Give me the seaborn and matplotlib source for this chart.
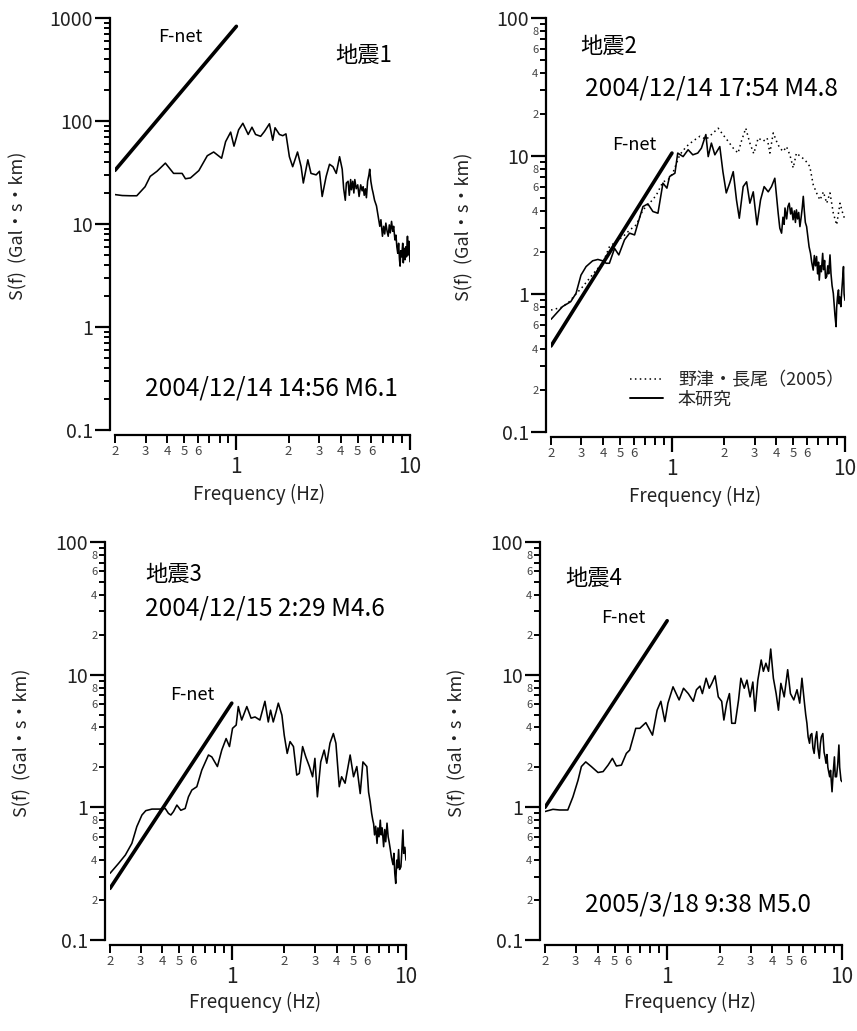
import numpy as np
import pandas as pd
import matplotlib
matplotlib.use("Agg")
import matplotlib.pyplot as plt
import seaborn as sns
from matplotlib.ticker import LogLocator, FuncFormatter, NullFormatter, FixedLocator
from matplotlib.lines import Line2D

# ---- source spectra S(f) [Gal*s*km] vs frequency [Hz] ----
EQ1_F = [0.2, 0.22, 0.245, 0.267, 0.298, 0.319, 0.349, 0.39, 0.435, 0.487, 0.509, 0.544,
         0.608, 0.68, 0.74, 0.822, 0.867, 0.927, 0.969, 1.03, 1.09, 1.17, 1.23, 1.29,
         1.38, 1.45, 1.55, 1.62, 1.67, 1.77, 1.85, 1.93, 2.02, 2.11, 2.25, 2.36,
         2.43, 2.58, 2.69, 2.88, 3.01, 3.12, 3.29, 3.44, 3.6, 3.76, 3.93, 4.07,
         4.15, 4.24, 4.3, 4.4, 4.47, 4.55, 4.6, 4.68, 4.75, 4.81,
         4.9, 5.0, 5.09, 5.2, 5.3, 5.37, 5.45, 5.53, 5.61, 5.7,
         5.8, 5.86, 5.95, 6.05, 6.13, 6.25, 6.41, 6.55, 6.7, 6.8,
         6.94, 7.05, 7.15, 7.26, 7.38, 7.49, 7.6, 7.7, 7.83, 7.95,
         8.05, 8.19, 8.3, 8.4, 8.5, 8.6, 8.7, 8.77, 8.85, 8.95,
         9.08, 9.15, 9.25, 9.37, 9.45, 9.55, 9.67, 9.75, 9.85, 10.0]
EQ1_S = [19.3, 18.9, 18.8, 18.8, 23, 29, 32.5, 39, 31, 31, 27.5, 28,
         33, 46, 50, 43.5, 63, 78, 57, 82, 95, 74, 87, 74,
         71, 79, 94, 65, 86, 74, 72, 75, 45, 36, 50, 36,
         25, 42, 31, 30, 32.5, 18.5, 29, 38, 36, 31, 45, 34,
         22, 17, 25, 26, 19, 27, 21.5, 26, 20, 27,
         22, 24, 18.5, 24, 21, 23, 19, 22, 18, 26,
         30, 34, 26, 22, 20, 17, 15, 12, 9.5, 11,
         7.6, 9.5, 8, 10.2, 8.5, 7.6, 9.8, 8.2, 10.6, 8.5,
         9.5, 7, 7.8, 6, 5.2, 6.5, 4.5, 3.9, 5.5, 4.8,
         6.5, 4.2, 5.8, 4.5, 6, 4.8, 7.6, 5, 6.8, 4.3]

EQ2_F = [0.2, 0.214, 0.233, 0.26, 0.279, 0.298, 0.319, 0.348, 0.373, 0.398,
         0.417, 0.435, 0.466, 0.493, 0.532, 0.569, 0.608, 0.636, 0.68, 0.726,
         0.776, 0.83, 0.887, 0.935, 0.969, 1.04, 1.08, 1.16, 1.24, 1.32,
         1.41, 1.48, 1.57, 1.62, 1.69, 1.77, 1.89, 1.97, 2.06, 2.16,
         2.26, 2.36, 2.45, 2.58, 2.7, 2.82, 2.95, 3.1, 3.25, 3.41,
         3.6, 3.76, 3.93, 4.11,
         4.2, 4.3, 4.38, 4.45, 4.5, 4.6, 4.68, 4.76, 4.85, 4.92,
         5.01, 5.1, 5.17, 5.24, 5.32, 5.4, 5.49, 5.58, 5.66, 5.74,
         5.82, 5.9, 6.0, 6.1, 6.2, 6.32, 6.42, 6.55, 6.65, 6.75,
         6.85, 6.95, 7.03, 7.1, 7.2, 7.3, 7.43, 7.52, 7.62, 7.72,
         7.84, 7.95, 8.05, 8.19, 8.3, 8.42, 8.56, 8.65, 8.75, 8.88,
         8.95, 9.05, 9.17, 9.25, 9.35, 9.46, 9.55, 9.65, 9.8, 9.88, 10.0]
EQ2_S = [0.655, 0.72, 0.81, 0.88, 1.01, 1.37, 1.58, 1.74, 1.78, 1.74,
         1.67, 1.67, 2.14, 1.92, 2.47, 2.76, 2.68, 3.26, 4.3, 4.5,
         3.96, 3.85, 6.36, 5.85, 7.1, 7.5, 10.5, 9.9, 11.1, 10.2,
         10.5, 11.4, 14.3, 9.9, 12.4, 10.2, 11.7, 7.7, 5.4, 6.4,
         7.7, 4.8, 3.54, 6.0, 6.5, 4.55, 5.5, 3.17, 4.8, 6.0,
         5.5, 6.0, 6.9, 3.85,
         3.0, 2.76, 3.6, 3.2, 4.2, 3.5, 4.3, 4.55, 3.8, 4.2,
         3.45, 4.0, 3.3, 4.07, 3.5, 3.9, 3.08, 3.6, 4.2, 5.1,
         4.0, 3.3, 3.08, 2.6, 2.2, 1.97, 1.7, 1.49, 1.9, 1.6,
         1.87, 1.4, 1.7, 1.26, 1.6, 1.45, 1.97, 1.5, 1.75, 1.3,
         1.34, 1.6, 1.4, 1.92, 1.4, 1.15, 1.01, 0.85, 0.7, 0.58,
         0.8, 0.95, 1.07, 0.85, 0.95, 0.81, 1.0, 1.2, 1.58, 1.0, 0.9]

# Nozu & Nagao (2005) spectrum for event 2
NN_F = [0.2, 0.23, 0.255, 0.279, 0.305, 0.334, 0.365, 0.398, 0.435, 0.476,
        0.52, 0.569, 0.622, 0.68, 0.743, 0.812, 0.887, 0.948, 1.01, 1.11,
        1.21, 1.32, 1.45, 1.58, 1.73, 1.85, 1.97, 2.11, 2.26, 2.41,
        2.52, 2.67, 2.82, 2.97, 3.15, 3.37, 3.55, 3.68, 3.85, 4.02,
        4.2, 4.4, 4.59, 4.8, 5.02, 5.24, 5.54, 5.86, 6.26, 6.55,
        6.85, 7.17, 7.5, 7.84, 8.19, 8.56, 8.95, 9.36, 9.7, 10.0]
NN_S = [0.765, 0.8, 0.88, 1.0, 1.13, 1.3, 1.49, 1.67, 2.2, 2.4,
        2.6, 2.9, 3.17, 4.07, 4.55, 5.2, 6.5, 6.7, 7.5, 10.2,
        11.7, 12.8, 13.9, 13.2, 14.7, 15.9, 14.3, 12.8, 11.4, 10.5,
        12.8, 15.9, 12.4, 10.4, 13.5, 12.8, 13.5, 10.5, 14.7, 12.8,
        11.4, 10.8, 11.7, 10.2, 8.2, 10.5, 9.9, 9.4, 8.4, 6.2,
        5.4, 4.8, 5.5, 4.55, 5.4, 3.85, 3.17, 4.55, 3.85, 3.45]

EQ3_F = [0.2, 0.224, 0.245, 0.267, 0.285, 0.305, 0.321, 0.348, 0.388, 0.415,
         0.433, 0.447, 0.463, 0.484, 0.51, 0.54, 0.564, 0.59, 0.63, 0.673,
         0.735, 0.768, 0.827, 0.876, 0.928, 0.97, 1.01, 1.06, 1.09, 1.14,
         1.22, 1.29, 1.36, 1.45, 1.55, 1.62, 1.67, 1.73, 1.8, 1.85,
         1.94, 2.0, 2.08, 2.16, 2.26, 2.36, 2.44, 2.55, 2.66, 2.79,
         2.91, 3.0, 3.1, 3.24, 3.39, 3.51, 3.66, 3.83, 3.96, 4.14,
         4.27, 4.47, 4.78, 5.0, 5.22, 5.46, 5.66, 5.96,
         6.1, 6.23, 6.35, 6.45, 6.52, 6.6, 6.7, 6.82, 6.9, 7.0,
         7.12, 7.2, 7.3, 7.44, 7.55, 7.65, 7.78, 7.9, 8.0, 8.13,
         8.25, 8.42, 8.52, 8.62, 8.73, 8.85, 8.95, 9.07, 9.18, 9.35,
         9.45, 9.6, 9.7, 9.85, 10.0]
EQ3_S = [0.318, 0.378, 0.437, 0.535, 0.715, 0.875, 0.944, 0.97, 0.97, 0.98,
         0.9, 0.875, 0.93, 1.04, 0.95, 0.98, 1.2, 1.35, 1.43, 1.91,
         2.48, 2.4, 2.03, 2.7, 3.3, 2.87, 3.94, 4.17, 5.75, 4.55,
         5.75, 4.7, 4.8, 4.55, 6.3, 4.4, 5.4, 4.4, 5.3, 6.1,
         4.95, 3.5, 2.55, 3.13, 2.87, 1.75, 1.8, 2.87, 2.4, 2.03,
         1.7, 2.34, 1.2, 2.2, 2.7, 2.15, 3.04, 3.6, 3.04, 1.43,
         1.7, 1.52, 2.48, 1.7, 2.03, 1.27, 2.2, 2.03,
         1.3, 1.1, 0.9, 0.8, 0.75, 0.62, 0.72, 0.535, 0.7, 0.6,
         0.8, 0.62, 0.7, 0.505, 0.68, 0.55, 0.76, 0.6, 0.55, 0.48,
         0.42, 0.37, 0.45, 0.32, 0.267, 0.4, 0.35, 0.48, 0.34, 0.356,
         0.45, 0.675, 0.45, 0.5, 0.4]

EQ4_F = [0.2, 0.222, 0.242, 0.27, 0.289, 0.309, 0.323, 0.342, 0.368, 0.402,
         0.43, 0.459, 0.486, 0.512, 0.547, 0.584, 0.61, 0.661, 0.697, 0.755,
         0.824, 0.876, 0.92, 0.97, 1.01, 1.08, 1.17, 1.24, 1.32, 1.41,
         1.47, 1.54, 1.59, 1.67, 1.74, 1.8, 1.88, 1.96, 2.05, 2.11,
         2.19, 2.27, 2.34, 2.45, 2.56, 2.64, 2.76, 2.86, 2.98, 3.09,
         3.18, 3.3, 3.45, 3.55, 3.67, 3.8, 3.91, 4.05, 4.2, 4.33,
         4.47, 4.67, 4.89, 5.07, 5.3, 5.53, 5.73, 5.9,
         6.1, 6.2, 6.3, 6.4, 6.52, 6.6, 6.72, 6.82, 6.93, 7.05,
         7.17, 7.28, 7.42, 7.52, 7.62, 7.77, 7.9, 8.0, 8.1, 8.2,
         8.3, 8.5, 8.6, 8.77, 8.9, 9.05, 9.15, 9.3, 9.45, 9.6,
         9.7, 9.87, 10.0]
EQ4_S = [0.93, 0.966, 0.955, 0.955, 1.2, 1.6, 2.03, 2.2, 2.03, 1.83,
         1.86, 2.08, 2.34, 2.05, 2.08, 2.55, 2.7, 3.94, 3.94, 4.35,
         3.5, 5.4, 6.3, 4.43, 6.1, 8.1, 6.45, 7.9, 7.2, 6.3,
         7.7, 8.2, 7.2, 9.4, 7.9, 8.6, 9.8, 6.8, 6.3, 4.55,
         6.1, 7.2, 4.3, 4.3, 6.45, 9.4, 7.9, 9.1, 6.8, 8.8,
         5.3, 9.1, 12.9, 10.6, 12.2, 10.6, 15.6, 9.4, 7.2, 5.4,
         8.6, 6.8, 10.9, 7.2, 6.45, 7.7, 6.1, 9.4,
         6.1, 5.0, 4.3, 3.4, 3.04, 3.5, 3.6, 2.8, 2.55, 3.3,
         3.72, 2.8, 2.34, 3.0, 3.4, 3.6, 2.6, 2.4, 2.15, 2.5,
         2.0, 1.7, 1.9, 1.31, 1.8, 2.4, 1.7, 1.7, 2.1, 2.95,
         2.0, 1.6, 1.56]

# F-net omega-squared low-frequency levels (0.2 Hz -> 1 Hz)
FNET_F = [0.2, 1.0]
FNET1 = [33.2, 830.0]
FNET2 = [0.42, 10.5]
FNET3 = [0.245, 6.1]
FNET4 = [1.0, 25.5]

TITLES = ["地震1", "地震2", "地震3", "地震4"]
DATES = ["2004/12/14 14:56 M6.1", "2004/12/14 17:54 M4.8",
         "2004/12/15 2:29 M4.6", "2005/3/18 9:38 M5.0"]
YLIMS = [(0.1, 1000), (0.1, 100), (0.1, 100), (0.1, 100)]
LEGEND_LABELS = ["野津・長尾（2005）", "本研究"]
XLABEL = "Frequency (Hz)"
YLABEL = "S(f)  (Gal・s・km)"

sns.set_theme(style="ticks")
plt.rcParams["font.family"] = ["Noto Sans CJK JP", "DejaVu Sans"]
plt.rcParams["axes.unicode_minus"] = False

W, H = 857, 1031
fig = plt.figure(figsize=(W / 100, H / 100), dpi=100)

# axes boxes in pixels: left, right, top, bottom
BOXES = [(115, 410, 18, 430), (551, 845, 18, 432),
         (110, 406, 542, 940), (545, 842, 542, 940)]

TXT = "#222222"


def make_axes(box):
    l, r, t, b = box
    return fig.add_axes([l / W, 1 - b / H, (r - l) / W, (b - t) / H])


def mantissa(v):
    return int(round(v / 10 ** np.floor(np.log10(v) + 1e-9)))


def y_minor_fmt(v, pos):
    m = mantissa(v)
    return str(m) if m in (2, 4, 6, 8) else ""


def x_minor_fmt(v, pos):
    m = mantissa(v)
    return str(m) if m in (2, 3, 4, 5, 6) else ""


def y_major_fmt(v, pos):
    return "0.1" if abs(v - 0.1) < 1e-9 else f"{v:g}"


def style_axes(ax, ylim, minor_labels):
    ax.set_xscale("log")
    ax.set_yscale("log")
    ax.set_xlim(0.2, 10)
    ax.set_ylim(*ylim)
    sns.despine(ax=ax)
    for s in ("left", "bottom"):
        ax.spines[s].set_linewidth(1.6)
        ax.spines[s].set_color("black")
    ax.spines["left"].set_position(("outward", 3.6))
    ax.spines["bottom"].set_position(("outward", 3.6))

    ax.xaxis.set_major_locator(FixedLocator([1, 10]))
    ax.xaxis.set_major_formatter(FuncFormatter(lambda v, p: f"{v:g}"))
    ax.xaxis.set_minor_locator(LogLocator(base=10, subs=np.arange(2, 10), numticks=20))
    ax.xaxis.set_minor_formatter(FuncFormatter(x_minor_fmt))

    ax.yaxis.set_major_locator(LogLocator(base=10, numticks=20))
    ax.yaxis.set_major_formatter(FuncFormatter(y_major_fmt))
    ax.yaxis.set_minor_locator(LogLocator(base=10, subs=np.arange(2, 10), numticks=20))
    if minor_labels:
        ax.yaxis.set_minor_formatter(FuncFormatter(y_minor_fmt))
    else:
        ax.yaxis.set_minor_formatter(NullFormatter())

    ax.tick_params(axis="x", which="major", direction="out", length=11, width=1.6,
                   pad=4, labelsize=15, labelcolor=TXT, color="black")
    ax.tick_params(axis="x", which="minor", direction="out", length=6, width=1.4,
                   pad=1, labelsize=9.5, labelcolor="#444444", color="black")
    ax.tick_params(axis="y", which="major", direction="out", length=11, width=1.6,
                   pad=1.5, labelsize=14, labelcolor=TXT, color="black")
    ax.tick_params(axis="y", which="minor", direction="out", length=4, width=1.4,
                   pad=1.5, labelsize=8, labelcolor="#444444", color="black")
    ax.set_facecolor("white")


def px_to_axes(box, x, y):
    l, r, t, b = box
    return (x - l) / (r - l), (b - y) / (b - t)


def curve(ax, f, s, **kw):
    df = pd.DataFrame({"f": f, "S": s})
    sns.lineplot(data=df, x="f", y="S", ax=ax, estimator=None, sort=False,
                 color="black", **kw)


FNETS = [FNET1, FNET2, FNET3, FNET4]
SPECS = [(EQ1_F, EQ1_S), (EQ2_F, EQ2_S), (EQ3_F, EQ3_S), (EQ4_F, EQ4_S)]
YLABEL_X = [-0.295, -0.265, -0.264, -0.263]
XLABEL_Y = [-0.131, -0.131, -0.13, -0.13]

axes = []
for i, box in enumerate(BOXES):
    ax = make_axes(box)
    axes.append(ax)
    style_axes(ax, YLIMS[i], minor_labels=(i > 0))
    curve(ax, FNET_F, FNETS[i], linewidth=2.6)
    if i == 1:
        curve(ax, NN_F, NN_S, linewidth=1.1, dashes=(1, 2.2))
    curve(ax, SPECS[i][0], SPECS[i][1], linewidth=1.15)
    ax.set_xlabel(XLABEL, fontsize=13.5, color=TXT)
    ax.set_ylabel(YLABEL, fontsize=13, color=TXT)
    ax.xaxis.set_label_coords(0.49, XLABEL_Y[i])
    ax.yaxis.set_label_coords(YLABEL_X[i], 0.495)

# annotations (positions given in pixel space of each panel)
ax1, ax2, ax3, ax4 = axes


def put(ax, box, x, y, s, size, ha="center"):
    ax.text(*px_to_axes(box, x, y), s, transform=ax.transAxes, ha=ha, va="center",
            fontsize=size, color="black", clip_on=False)


put(ax1, BOXES[0], 180, 37, "F-net", 13)
put(ax1, BOXES[0], 364, 55, TITLES[0], 16)
put(ax1, BOXES[0], 271, 388, DATES[0], 17.5)

put(ax2, BOXES[1], 580, 46, TITLES[1], 16, ha="left")
put(ax2, BOXES[1], 585, 88, DATES[1], 17.5, ha="left")
put(ax2, BOXES[1], 634, 145, "F-net", 13)

put(ax3, BOXES[2], 145, 574, TITLES[2], 16, ha="left")
put(ax3, BOXES[2], 145, 609, DATES[2], 17.5, ha="left")
put(ax3, BOXES[2], 192, 695, "F-net", 13)

put(ax4, BOXES[3], 565, 578, TITLES[3], 16, ha="left")
put(ax4, BOXES[3], 623, 618, "F-net", 13)
put(ax4, BOXES[3], 585, 905, DATES[3], 17.5, ha="left")

handles = [Line2D([], [], color="black", lw=1.1, dashes=(1, 2.2)),
           Line2D([], [], color="black", lw=1.4)]
ax2.legend(handles, LEGEND_LABELS, loc="center left",
           bbox_to_anchor=px_to_axes(BOXES[1], 630, 390), frameon=False,
           fontsize=13, handlelength=1.85, handletextpad=0.8, labelspacing=0.05,
           borderpad=0, borderaxespad=0)

fig.savefig("out.png", dpi=100, facecolor="white")
